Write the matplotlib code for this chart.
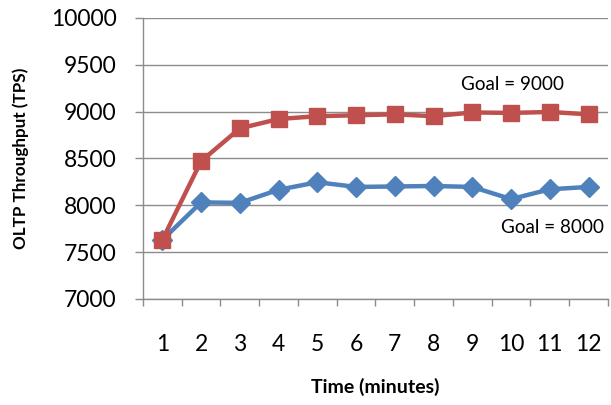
import matplotlib
matplotlib.use("Agg")
import matplotlib.pyplot as plt

# data
minutes = [1, 2, 3, 4, 5, 6, 7, 8, 9, 10, 11, 12]
goal_9000 = [7630, 8470, 8820, 8920, 8950, 8960, 8970, 8950, 8990, 8985, 8995, 8970]
goal_8000 = [7630, 8030, 8025, 8165, 8245, 8195, 8200, 8205, 8195, 8065, 8170, 8195]
y_ticks = [7000, 7500, 8000, 8500, 9000, 9500, 10000]

plt.rcParams['font.family'] = ['Lato', 'DejaVu Sans']
grey = '#8c8c8c'

fig = plt.figure(figsize=(6.11, 4.05), dpi=100)
ax = fig.add_axes([0.234, 0.262, 0.761, 0.694])

ax.plot(minutes, goal_8000, color='#4F81BD', lw=3.2, marker='D', ms=10, zorder=3)
ax.plot(minutes, goal_9000, color='#C0504D', lw=3.2, marker='s', ms=12, zorder=4)

ax.text(11.37, 9290, 'Goal = 9000', fontsize=13.6, ha='right', va='center')
ax.text(12.4, 7760, 'Goal = 8000', fontsize=13.6, ha='right', va='center')

ax.set_xlim(0.5, 12.5)
ax.set_ylim(7000, 10000)
ax.set_yticks(y_ticks)
ax.set_xticks(minutes)
ax.set_xticks([m + 0.5 for m in [0] + minutes], minor=True)
ax.tick_params(axis='x', which='major', length=0, pad=25, labelsize=16.5)
ax.tick_params(axis='x', which='minor', length=5, width=1, color=grey, direction='out')
ax.tick_params(axis='y', length=6, width=1, color=grey, pad=13, labelsize=16.5)

ax.grid(axis='y', color=grey, lw=1)
ax.set_axisbelow(True)
for s in ['top', 'right']:
    ax.spines[s].set_visible(False)
for s in ['left', 'bottom']:
    ax.spines[s].set_color(grey)
    ax.spines[s].set_linewidth(1)

ax.set_xlabel('Time (minutes)', fontsize=14, fontweight='bold', labelpad=17)
ax.set_ylabel('OLTP Throughput (TPS)', fontsize=12.3, fontweight='bold', labelpad=16)

fig.savefig('out.png', dpi=100)
